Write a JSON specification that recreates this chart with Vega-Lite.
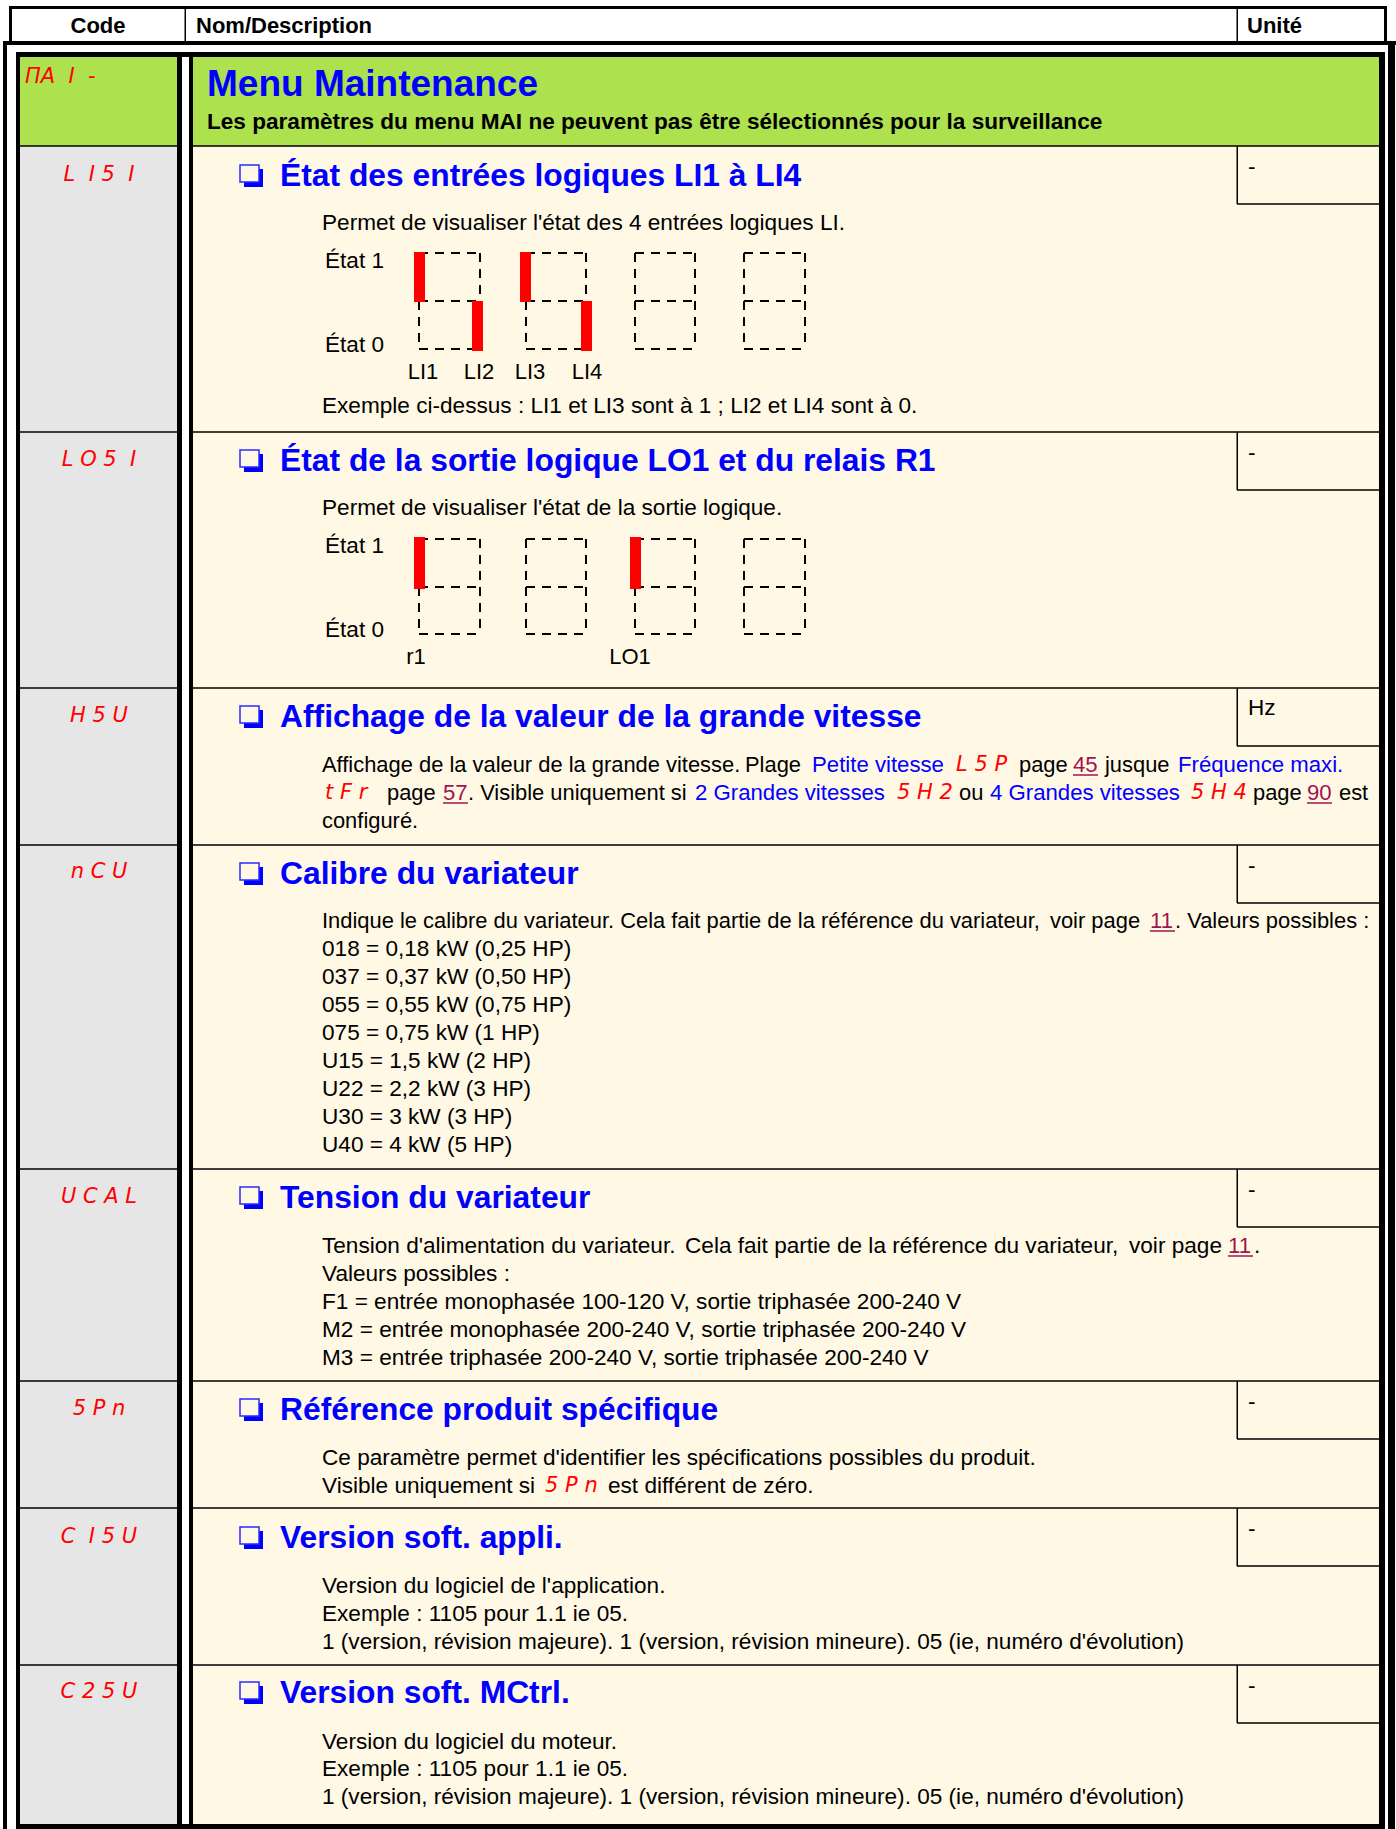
{
"$schema": "https://vega.github.io/schema/vega-lite/v6.json",
"width": 1396, "height": 1829, "padding": 0, "autosize": {"type": "none"},
"background": "#ffffff",
"config": {"view": {"stroke": null}},
"usermeta": {"embedOptions": {"actions": false}},
"datasets": {
"rects": [
{"x":20,"x2":177,"y":57,"y2":1824,"k":"gray"},
{"x":20,"x2":177,"y":57,"y2":146,"k":"green"},
{"x":193,"x2":1379,"y":57,"y2":1824,"k":"cream"},
{"x":193,"x2":1379,"y":57,"y2":146,"k":"green"},
{"x":20,"x2":177,"y":145.25,"y2":146.75,"k":"ink"},{"x":193,"x2":1379,"y":145.25,"y2":146.75,"k":"ink"},
{"x":20,"x2":177,"y":431.25,"y2":432.75,"k":"ink"},{"x":193,"x2":1379,"y":431.25,"y2":432.75,"k":"ink"},
{"x":20,"x2":177,"y":687.25,"y2":688.75,"k":"ink"},{"x":193,"x2":1379,"y":687.25,"y2":688.75,"k":"ink"},
{"x":20,"x2":177,"y":844.25,"y2":845.75,"k":"ink"},{"x":193,"x2":1379,"y":844.25,"y2":845.75,"k":"ink"},
{"x":20,"x2":177,"y":1168.25,"y2":1169.75,"k":"ink"},{"x":193,"x2":1379,"y":1168.25,"y2":1169.75,"k":"ink"},
{"x":20,"x2":177,"y":1380.25,"y2":1381.75,"k":"ink"},{"x":193,"x2":1379,"y":1380.25,"y2":1381.75,"k":"ink"},
{"x":20,"x2":177,"y":1507.25,"y2":1508.75,"k":"ink"},{"x":193,"x2":1379,"y":1507.25,"y2":1508.75,"k":"ink"},
{"x":20,"x2":177,"y":1664.25,"y2":1665.75,"k":"ink"},{"x":193,"x2":1379,"y":1664.25,"y2":1665.75,"k":"ink"},
{"x":1236.5,"x2":1238,"y":146,"y2":204,"k":"ink"},{"x":1237,"x2":1379,"y":203.25,"y2":204.75,"k":"ink"},
{"x":1236.5,"x2":1238,"y":432,"y2":490,"k":"ink"},{"x":1237,"x2":1379,"y":489.25,"y2":490.75,"k":"ink"},
{"x":1236.5,"x2":1238,"y":688,"y2":746,"k":"ink"},{"x":1237,"x2":1379,"y":745.25,"y2":746.75,"k":"ink"},
{"x":1236.5,"x2":1238,"y":845,"y2":903,"k":"ink"},{"x":1237,"x2":1379,"y":902.25,"y2":903.75,"k":"ink"},
{"x":1236.5,"x2":1238,"y":1169,"y2":1227,"k":"ink"},{"x":1237,"x2":1379,"y":1226.25,"y2":1227.75,"k":"ink"},
{"x":1236.5,"x2":1238,"y":1381,"y2":1439,"k":"ink"},{"x":1237,"x2":1379,"y":1438.25,"y2":1439.75,"k":"ink"},
{"x":1236.5,"x2":1238,"y":1508,"y2":1566,"k":"ink"},{"x":1237,"x2":1379,"y":1565.25,"y2":1566.75,"k":"ink"},
{"x":1236.5,"x2":1238,"y":1665,"y2":1723,"k":"ink"},{"x":1237,"x2":1379,"y":1722.25,"y2":1723.75,"k":"ink"},
{"x":9,"x2":1387,"y":6,"y2":9,"k":"ink"},
{"x":9,"x2":12,"y":6,"y2":43,"k":"ink"},
{"x":1384,"x2":1387,"y":6,"y2":43,"k":"ink"},
{"x":184.5,"x2":186,"y":9,"y2":41,"k":"ink"},
{"x":1236.5,"x2":1238,"y":9,"y2":41,"k":"ink"},
{"x":3,"x2":1396,"y":41,"y2":45,"k":"ink"},
{"x":3,"x2":7,"y":41,"y2":1829,"k":"ink"},
{"x":1388,"x2":1395,"y":41,"y2":1829,"k":"ink"},
{"x":16,"x2":1385,"y":52,"y2":57,"k":"ink"},
{"x":16,"x2":20,"y":52,"y2":1829,"k":"ink"},
{"x":1379,"x2":1385,"y":52,"y2":1829,"k":"ink"},
{"x":16,"x2":1385,"y":1824,"y2":1829,"k":"ink"},
{"x":177,"x2":182,"y":57,"y2":1824,"k":"ink"},
{"x":189,"x2":193,"y":57,"y2":1824,"k":"ink"}
],
"cbShadow": [
{"x":244,"x2":263,"y":169,"y2":187},{"x":244,"x2":263,"y":454,"y2":472},{"x":244,"x2":263,"y":710,"y2":728},{"x":244,"x2":263,"y":867,"y2":885},
{"x":244,"x2":263,"y":1191,"y2":1209},{"x":244,"x2":263,"y":1403,"y2":1421},{"x":244,"x2":263,"y":1531,"y2":1549},{"x":244,"x2":263,"y":1686,"y2":1704}
],
"cbBox": [
{"x":240,"x2":259,"y":165,"y2":182},{"x":240,"x2":259,"y":450,"y2":467},{"x":240,"x2":259,"y":706,"y2":723},{"x":240,"x2":259,"y":863,"y2":880},
{"x":240,"x2":259,"y":1187,"y2":1204},{"x":240,"x2":259,"y":1399,"y2":1416},{"x":240,"x2":259,"y":1527,"y2":1544},{"x":240,"x2":259,"y":1682,"y2":1699}
],
"dashes": [
{"x":419,"x2":480,"y":253,"y2":253},{"x":419,"x2":480,"y":301,"y2":301},{"x":419,"x2":480,"y":349,"y2":349},{"x":419,"x2":419,"y":253,"y2":349},{"x":480,"x2":480,"y":253,"y2":349},
{"x":526,"x2":586,"y":253,"y2":253},{"x":526,"x2":586,"y":301,"y2":301},{"x":526,"x2":586,"y":349,"y2":349},{"x":526,"x2":526,"y":253,"y2":349},{"x":586,"x2":586,"y":253,"y2":349},
{"x":635,"x2":695,"y":253,"y2":253},{"x":635,"x2":695,"y":301,"y2":301},{"x":635,"x2":695,"y":349,"y2":349},{"x":635,"x2":635,"y":253,"y2":349},{"x":695,"x2":695,"y":253,"y2":349},
{"x":744,"x2":805,"y":253,"y2":253},{"x":744,"x2":805,"y":301,"y2":301},{"x":744,"x2":805,"y":349,"y2":349},{"x":744,"x2":744,"y":253,"y2":349},{"x":805,"x2":805,"y":253,"y2":349},
{"x":419,"x2":480,"y":539,"y2":539},{"x":419,"x2":480,"y":587,"y2":587},{"x":419,"x2":480,"y":634,"y2":634},{"x":419,"x2":419,"y":539,"y2":634},{"x":480,"x2":480,"y":539,"y2":634},
{"x":526,"x2":586,"y":539,"y2":539},{"x":526,"x2":586,"y":587,"y2":587},{"x":526,"x2":586,"y":634,"y2":634},{"x":526,"x2":526,"y":539,"y2":634},{"x":586,"x2":586,"y":539,"y2":634},
{"x":635,"x2":695,"y":539,"y2":539},{"x":635,"x2":695,"y":587,"y2":587},{"x":635,"x2":695,"y":634,"y2":634},{"x":635,"x2":635,"y":539,"y2":634},{"x":695,"x2":695,"y":539,"y2":634},
{"x":744,"x2":805,"y":539,"y2":539},{"x":744,"x2":805,"y":587,"y2":587},{"x":744,"x2":805,"y":634,"y2":634},{"x":744,"x2":744,"y":539,"y2":634},{"x":805,"x2":805,"y":539,"y2":634}
],
"bars": [
{"x":414,"x2":425,"y":252,"y2":302},{"x":472,"x2":483,"y":301,"y2":351},{"x":520,"x2":531,"y":252,"y2":302},{"x":581,"x2":592,"y":301,"y2":351},
{"x":414,"x2":425,"y":537,"y2":589},{"x":630,"x2":641,"y":537,"y2":589}
],
"underlines": [
{"x":1073,"x2":1098,"y":775},{"x":443,"x2":468,"y":803},{"x":1307,"x2":1332,"y":803},{"x":1150,"x2":1175,"y":931},{"x":1228,"x2":1253,"y":1256}
],
"texts": [
{"k":"hdrc","x":98,"y":26,"t":"Code"},
{"k":"hdr","x":196,"y":26,"t":"Nom/Description"},
{"k":"hdr","x":1247,"y":26,"t":"Unité"},
{"k":"title","x":207,"y":85,"t":"Menu Maintenance"},
{"k":"sub","x":207,"y":122,"t":"Les paramètres du menu MAI ne peuvent pas être sélectionnés pour la surveillance"},
{"k":"codeL","x":25,"y":77,"t":"ΠA\u00a0\u00a0I\u00a0\u00a0-"},
{"k":"code","x":99,"y":175,"t":"L\u00a0\u00a0I\u00a05\u00a0\u00a0I"},
{"k":"code","x":99,"y":460,"t":"L\u00a0O\u00a05\u00a0\u00a0I"},
{"k":"code","x":99,"y":716,"t":"H\u00a05\u00a0U"},
{"k":"code","x":99,"y":872,"t":"n\u00a0C\u00a0U"},
{"k":"code","x":99,"y":1197,"t":"U\u00a0C\u00a0A\u00a0L"},
{"k":"code","x":99,"y":1409,"t":"5\u00a0P\u00a0n"},
{"k":"code","x":99,"y":1537,"t":"C\u00a0\u00a0I\u00a05\u00a0U"},
{"k":"code","x":99,"y":1692,"t":"C\u00a02\u00a05\u00a0U"},
{"k":"head","x":280,"y":176,"t":"État des entrées logiques LI1 à LI4"},
{"k":"head","x":280,"y":461,"t":"État de la sortie logique LO1 et du relais R1"},
{"k":"head","x":280,"y":717,"t":"Affichage de la valeur de la grande vitesse"},
{"k":"head","x":280,"y":874,"t":"Calibre du variateur"},
{"k":"head","x":280,"y":1198,"t":"Tension du variateur"},
{"k":"head","x":280,"y":1410,"t":"Référence produit spécifique"},
{"k":"head","x":280,"y":1538,"t":"Version soft. appli."},
{"k":"head","x":280,"y":1693,"t":"Version soft. MCtrl."},
{"k":"unit","x":1248,"y":167,"t":"-"},
{"k":"unit","x":1248,"y":453,"t":"-"},
{"k":"unit","x":1248,"y":708,"t":"Hz"},
{"k":"unit","x":1248,"y":866,"t":"-"},
{"k":"unit","x":1248,"y":1190,"t":"-"},
{"k":"unit","x":1248,"y":1402,"t":"-"},
{"k":"unit","x":1248,"y":1529,"t":"-"},
{"k":"unit","x":1248,"y":1686,"t":"-"},
{"k":"body","x":322,"y":223,"t":"Permet de visualiser l'état des 4 entrées logiques LI."},
{"k":"body","x":325,"y":261,"t":"État 1"},
{"k":"body","x":325,"y":345,"t":"État 0"},
{"k":"lbl","x":423,"y":372,"t":"LI1"},
{"k":"lbl","x":479,"y":372,"t":"LI2"},
{"k":"lbl","x":530,"y":372,"t":"LI3"},
{"k":"lbl","x":587,"y":372,"t":"LI4"},
{"k":"body","x":322,"y":406,"t":"Exemple ci-dessus : LI1 et LI3 sont à 1 ; LI2 et LI4 sont à 0."},
{"k":"body","x":322,"y":508,"t":"Permet de visualiser l'état de la sortie logique."},
{"k":"body","x":325,"y":546,"t":"État 1"},
{"k":"body","x":325,"y":630,"t":"État 0"},
{"k":"lbl","x":416,"y":657,"t":"r1"},
{"k":"lbl","x":630,"y":657,"t":"LO1"},
{"k":"bodyS","x":322,"y":765,"t":"Affichage de la valeur de la grande vitesse."},
{"k":"bodyS","x":745,"y":765,"t":"Plage"},
{"k":"blue","x":812,"y":765,"t":"Petite vitesse"},
{"k":"codeL","x":956,"y":765,"t":"L\u00a05\u00a0P"},
{"k":"bodyS","x":1019,"y":765,"t":"page"},
{"k":"link","x":1073,"y":765,"t":"45"},
{"k":"bodyS","x":1105,"y":765,"t":"jusque"},
{"k":"blue","x":1178,"y":765,"t":"Fréquence maxi."},
{"k":"codeL","x":325,"y":793,"t":"t\u00a0F\u00a0r"},
{"k":"bodyS","x":387,"y":793,"t":"page"},
{"k":"link","x":443,"y":793,"t":"57"},
{"k":"bodyS","x":468,"y":793,"t":". Visible uniquement si"},
{"k":"blue","x":695,"y":793,"t":"2 Grandes vitesses"},
{"k":"codeL","x":897,"y":793,"t":"5\u00a0H\u00a02"},
{"k":"bodyS","x":959,"y":793,"t":"ou"},
{"k":"blue","x":990,"y":793,"t":"4 Grandes vitesses"},
{"k":"codeL","x":1191,"y":793,"t":"5\u00a0H\u00a04"},
{"k":"bodyS","x":1253,"y":793,"t":"page"},
{"k":"link","x":1307,"y":793,"t":"90"},
{"k":"bodyS","x":1339,"y":793,"t":"est"},
{"k":"bodyS","x":322,"y":821,"t":"configuré."},
{"k":"bodyS","x":322,"y":921,"t":"Indique le calibre du variateur. Cela fait partie de la référence du variateur,"},
{"k":"bodyS","x":1050,"y":921,"t":"voir page"},
{"k":"link","x":1150,"y":921,"t":"11"},
{"k":"bodyS","x":1175,"y":921,"t":". Valeurs possibles :"},
{"k":"body","x":322,"y":949,"t":"018 = 0,18 kW (0,25 HP)"},
{"k":"body","x":322,"y":977,"t":"037 = 0,37 kW (0,50 HP)"},
{"k":"body","x":322,"y":1005,"t":"055 = 0,55 kW (0,75 HP)"},
{"k":"body","x":322,"y":1033,"t":"075 = 0,75 kW (1 HP)"},
{"k":"body","x":322,"y":1061,"t":"U15 = 1,5 kW (2 HP)"},
{"k":"body","x":322,"y":1089,"t":"U22 = 2,2 kW (3 HP)"},
{"k":"body","x":322,"y":1117,"t":"U30 = 3 kW (3 HP)"},
{"k":"body","x":322,"y":1145,"t":"U40 = 4 kW (5 HP)"},
{"k":"body","x":322,"y":1246,"t":"Tension d'alimentation du variateur."},
{"k":"body","x":685,"y":1246,"t":"Cela fait partie de la référence du variateur,"},
{"k":"body","x":1129,"y":1246,"t":"voir page"},
{"k":"link","x":1228,"y":1246,"t":"11"},
{"k":"body","x":1254,"y":1246,"t":"."},
{"k":"body","x":322,"y":1274,"t":"Valeurs possibles :"},
{"k":"body","x":322,"y":1302,"t":"F1 = entrée monophasée 100-120 V, sortie triphasée 200-240 V"},
{"k":"body","x":322,"y":1330,"t":"M2 = entrée monophasée 200-240 V, sortie triphasée 200-240 V"},
{"k":"body","x":322,"y":1358,"t":"M3 = entrée triphasée 200-240 V, sortie triphasée 200-240 V"},
{"k":"body","x":322,"y":1458,"t":"Ce paramètre permet d'identifier les spécifications possibles du produit."},
{"k":"body","x":322,"y":1486,"t":"Visible uniquement si"},
{"k":"codeL","x":545,"y":1486,"t":"5\u00a0P\u00a0n"},
{"k":"body","x":608,"y":1486,"t":"est différent de zéro."},
{"k":"body","x":322,"y":1586,"t":"Version du logiciel de l'application."},
{"k":"body","x":322,"y":1614,"t":"Exemple : 1105 pour 1.1 ie 05."},
{"k":"body","x":322,"y":1642,"t":"1 (version, révision majeure). 1 (version, révision mineure). 05 (ie, numéro d'évolution)"},
{"k":"body","x":322,"y":1742,"t":"Version du logiciel du moteur."},
{"k":"body","x":322,"y":1769,"t":"Exemple : 1105 pour 1.1 ie 05."},
{"k":"body","x":322,"y":1797,"t":"1 (version, révision majeure). 1 (version, révision mineure). 05 (ie, numéro d'évolution)"}
]
},
"encoding": {
"x": {"field": "x", "type": "quantitative", "scale": {"domain": [0, 1396], "nice": false, "zero": false}, "axis": null},
"y": {"field": "y", "type": "quantitative", "scale": {"domain": [0, 1829], "nice": false, "zero": false, "reverse": true}, "axis": null}
},
"layer": [
{"data": {"name": "rects"}, "mark": {"type": "rect"},
 "encoding": {"x2": {"field": "x2"}, "y2": {"field": "y2"},
  "color": {"field": "k", "type": "nominal", "legend": null, "scale": {"domain": ["ink", "gray", "green", "cream"], "range": ["#000000", "#e6e6e6", "#aee14e", "#fff8e5"]}}}},
{"data": {"name": "cbShadow"}, "mark": {"type": "rect", "color": "#0000ff"},
 "encoding": {"x2": {"field": "x2"}, "y2": {"field": "y2"}}},
{"data": {"name": "cbBox"}, "mark": {"type": "rect", "fill": "#fff8e5", "stroke": "#2a2aff", "strokeWidth": 1.5},
 "encoding": {"x2": {"field": "x2"}, "y2": {"field": "y2"}}},
{"data": {"name": "dashes"}, "mark": {"type": "rule", "color": "#000000", "strokeWidth": 2, "strokeDash": [9, 7]},
 "encoding": {"x2": {"field": "x2"}, "y2": {"field": "y2"}}},
{"data": {"name": "bars"}, "mark": {"type": "rect", "color": "#ff0000"},
 "encoding": {"x2": {"field": "x2"}, "y2": {"field": "y2"}}},
{"data": {"name": "underlines"}, "mark": {"type": "rule", "color": "#a0144f", "strokeWidth": 1.5},
 "encoding": {"x2": {"field": "x2"}}},
{"data": {"name": "texts"}, "transform": [{"filter": {"field": "k", "oneOf": ["hdr"]}}],
 "mark": {"type": "text", "align": "left", "baseline": "middle", "font": "Liberation Sans", "fontWeight": "bold", "fontSize": 22, "fill": "#000000"},
 "encoding": {"text": {"field": "t", "type": "nominal"}}},
{"data": {"name": "texts"}, "transform": [{"filter": {"field": "k", "oneOf": ["hdrc"]}}],
 "mark": {"type": "text", "align": "center", "baseline": "middle", "font": "Liberation Sans", "fontWeight": "bold", "fontSize": 22, "fill": "#000000"},
 "encoding": {"text": {"field": "t", "type": "nominal"}}},
{"data": {"name": "texts"}, "transform": [{"filter": {"field": "k", "oneOf": ["title"]}}],
 "mark": {"type": "text", "align": "left", "baseline": "middle", "font": "Liberation Sans", "fontWeight": "bold", "fontSize": 37, "fill": "#0000ff"},
 "encoding": {"text": {"field": "t", "type": "nominal"}}},
{"data": {"name": "texts"}, "transform": [{"filter": {"field": "k", "oneOf": ["sub"]}}],
 "mark": {"type": "text", "align": "left", "baseline": "middle", "font": "Liberation Sans", "fontWeight": "bold", "fontSize": 22.6, "fill": "#000000"},
 "encoding": {"text": {"field": "t", "type": "nominal"}}},
{"data": {"name": "texts"}, "transform": [{"filter": {"field": "k", "oneOf": ["head"]}}],
 "mark": {"type": "text", "align": "left", "baseline": "middle", "font": "Liberation Sans", "fontWeight": "bold", "fontSize": 31.8, "fill": "#0000ff"},
 "encoding": {"text": {"field": "t", "type": "nominal"}}},
{"data": {"name": "texts"}, "transform": [{"filter": {"field": "k", "oneOf": ["body", "unit"]}}],
 "mark": {"type": "text", "align": "left", "baseline": "middle", "font": "Liberation Sans", "fontSize": 22.6, "fill": "#000000"},
 "encoding": {"text": {"field": "t", "type": "nominal"}}},
{"data": {"name": "texts"}, "transform": [{"filter": {"field": "k", "oneOf": ["bodyS"]}}],
 "mark": {"type": "text", "align": "left", "baseline": "middle", "font": "Liberation Sans", "fontSize": 21.9, "fill": "#000000"},
 "encoding": {"text": {"field": "t", "type": "nominal"}}},
{"data": {"name": "texts"}, "transform": [{"filter": {"field": "k", "oneOf": ["lbl"]}}],
 "mark": {"type": "text", "align": "center", "baseline": "middle", "font": "Liberation Sans", "fontSize": 22, "fill": "#000000"},
 "encoding": {"text": {"field": "t", "type": "nominal"}}},
{"data": {"name": "texts"}, "transform": [{"filter": {"field": "k", "oneOf": ["blue"]}}],
 "mark": {"type": "text", "align": "left", "baseline": "middle", "font": "Liberation Sans", "fontSize": 22.2, "fill": "#0000ff"},
 "encoding": {"text": {"field": "t", "type": "nominal"}}},
{"data": {"name": "texts"}, "transform": [{"filter": {"field": "k", "oneOf": ["link"]}}],
 "mark": {"type": "text", "align": "left", "baseline": "middle", "font": "Liberation Sans", "fontSize": 22.2, "fill": "#a0144f"},
 "encoding": {"text": {"field": "t", "type": "nominal"}}},
{"data": {"name": "texts"}, "transform": [{"filter": {"field": "k", "oneOf": ["code"]}}],
 "mark": {"type": "text", "align": "center", "baseline": "middle", "font": "DejaVu Sans", "fontStyle": "italic", "fontSize": 21, "fill": "#ff0000"},
 "encoding": {"text": {"field": "t", "type": "nominal"}}},
{"data": {"name": "texts"}, "transform": [{"filter": {"field": "k", "oneOf": ["codeL"]}}],
 "mark": {"type": "text", "align": "left", "baseline": "middle", "font": "DejaVu Sans", "fontStyle": "italic", "fontSize": 21, "fill": "#ff0000"},
 "encoding": {"text": {"field": "t", "type": "nominal"}}}
]
}
